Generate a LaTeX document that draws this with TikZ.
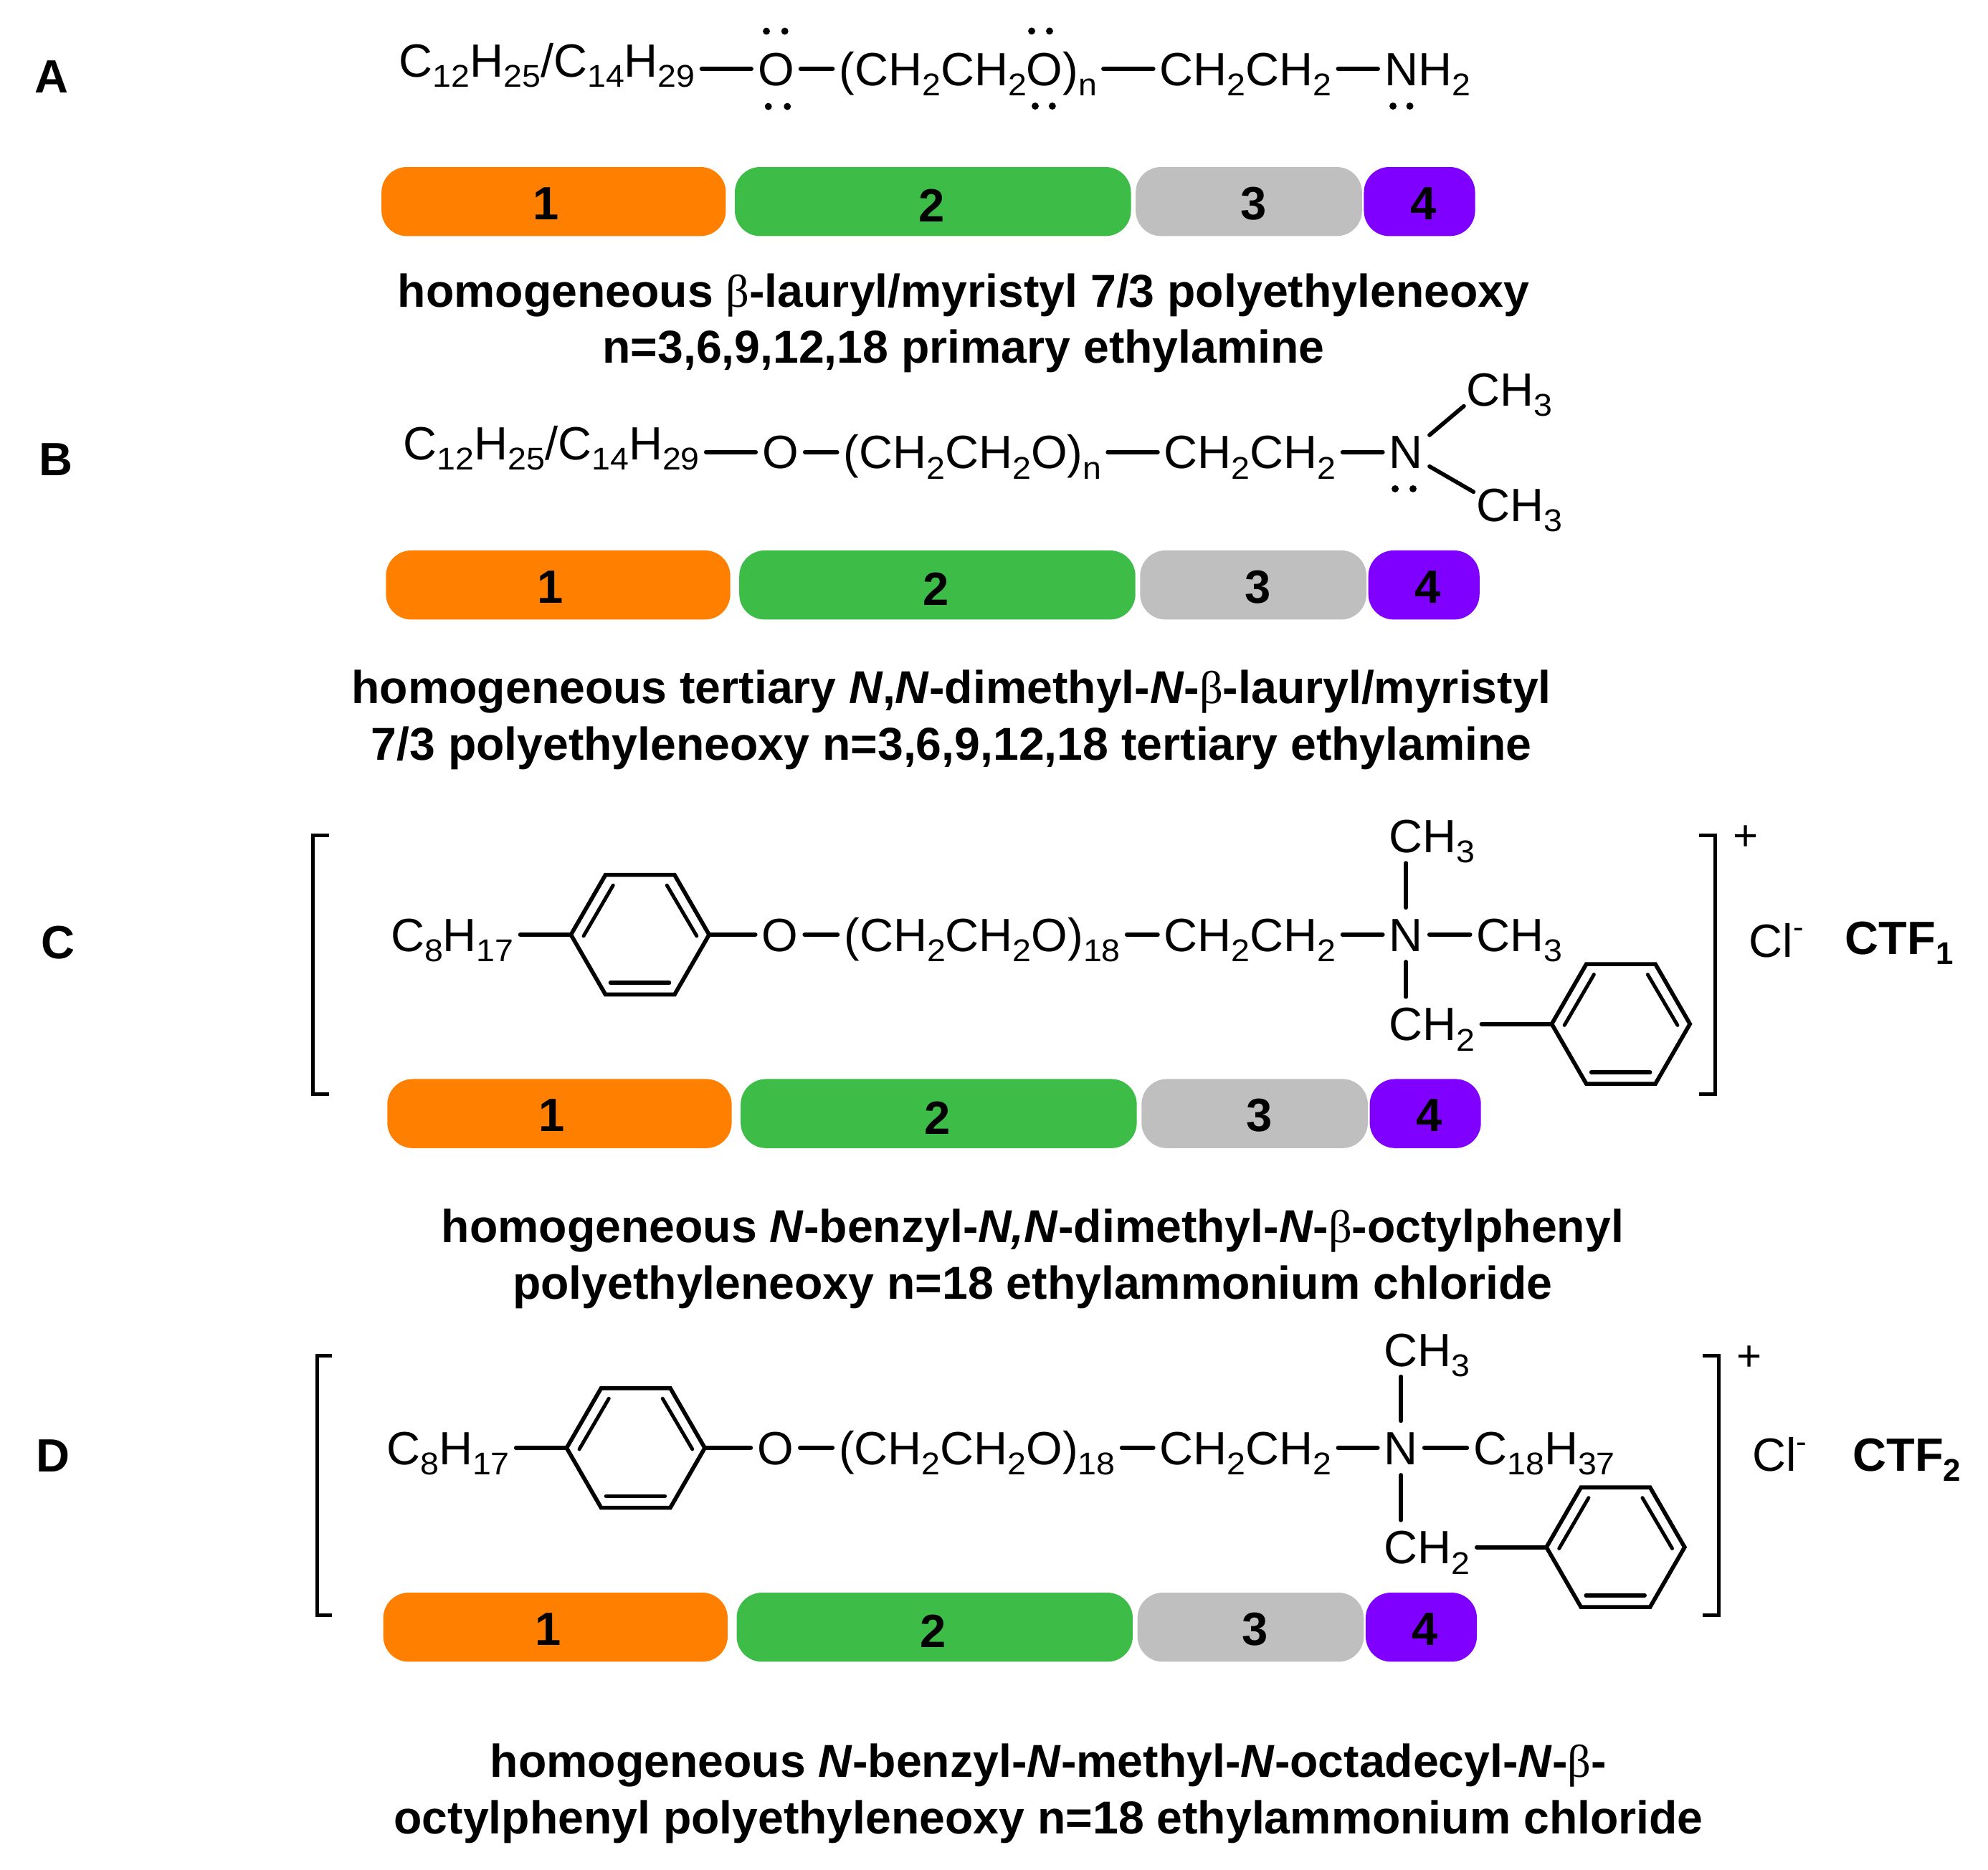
\documentclass[tikz,border=0pt]{standalone}
\usepackage{fontspec}
\setmainfont{Liberation Sans}
\newfontfamily\betafont{Liberation Serif}
\newfontfamily\subsfont[FakeStretch=1.06]{Liberation Sans}
\usetikzlibrary{shapes.geometric}
\definecolor{pillorange}{HTML}{FF8000}
\definecolor{pillgreen}{HTML}{3DBD47}
\definecolor{pillgrey}{HTML}{BFBFBF}
\definecolor{pillviolet}{HTML}{8000FF}
\newcommand{\sbs}[1]{\raisebox{-8pt}{\subsfont\fontsize{24.8}{24.8}\selectfont #1}}
\newcommand{\bsbs}[1]{\raisebox{-8pt}{\fontsize{24.8}{24.8}\selectfont\bfseries #1}}
\newcommand{\betaglyph}{{\betafont\mdseries β}}
\tikzset{
  chem/.style={font=\fontsize{36.8}{40}\selectfont, inner xsep=5pt, inner ysep=0pt, text height=26.3pt, text depth=0pt},
  rowlabel/.style={chem, font=\fontsize{36.8}{40}\selectfont\bfseries},
  caption/.style={font=\fontsize{36.4}{44.5}\selectfont\bfseries, align=center, inner sep=0pt},
  bond/.style={line width=3.5pt, line cap=round},
  vbond/.style={bond, line width=3.2pt, shorten >=8pt, shorten <=8pt},
  bracket/.style={line width=2.9pt},
  pairdot/.style={circle, fill=black, inner sep=0pt, minimum size=5.6pt},
  benzene/.style={regular polygon, regular polygon sides=6, draw, line width=3.2pt, minimum size=109pt, inner sep=0pt, outer sep=0pt,
    path picture={
      \draw[line width=2.8pt, line cap=round] ([shift={(-21.2,-39)}]path picture bounding box.center) -- ([shift={(-44.5,1)}]path picture bounding box.center);
      \draw[line width=2.8pt, line cap=round] ([shift={(21.2,-39)}]path picture bounding box.center) -- ([shift={(44.7,1)}]path picture bounding box.center);
      \draw[line width=3.2pt, line cap=round] ([shift={(-23.3,38)}]path picture bounding box.center) -- ([shift={(23,38)}]path picture bounding box.center);
    }},
  pill/.style={rounded corners=20pt, minimum height=54.5pt, inner xsep=0pt, inner ysep=0pt, text height=26.3pt, text depth=0pt, font=\fontsize{36.8}{40}\selectfont\bfseries},
  pillone/.style={pill, fill=pillorange, minimum width=271.6pt},
  pilltwo/.style={pill, fill=pillgreen, minimum width=312.4pt},
  pillthree/.style={pill, fill=pillgrey, minimum width=178.5pt},
  pillfour/.style={pill, fill=pillviolet, minimum width=87.7pt}
}
\begin{document}
\begin{tikzpicture}[x=1pt, y=-1pt]
  \useasboundingbox (0,0) rectangle (1568,1474.7);

  \node[rowlabel] (la) at (40.5,59.8) {A};
  \node[chem] (ac) at (431.5,47.4) {C\sbs{12}H\sbs{25}/C\sbs{14}H\sbs{29}};
  \node[chem] (ao) at (612,54.4) {O};
  \node[chem] (apeg) at (763.5,54.4) {(CH\sbs{2}CH\sbs{2}O)\sbs{n}};
  \node[chem] (ach) at (982.5,54.4) {CH\sbs{2}CH\sbs{2}};
  \node[chem] (an) at (1125.8,54.4) {NH\sbs{2}};
  \draw[bond] (ac.east |- ao.west) -- (ao.west);
  \draw[bond] (ao) -- (apeg);
  \draw[bond] (apeg) -- (ach);
  \draw[bond] (ach) -- (an);
  \node[pairdot] (aot1) at (604.5,24.6) {};
  \node[pairdot] (aot2) at (619,24.6) {};
  \node[pairdot] (aob1) at (606,84) {};
  \node[pairdot] (aob2) at (621,84) {};
  \node[pairdot] (apt1) at (813.7,24.5) {};
  \node[pairdot] (apt2) at (827.8,24.5) {};
  \node[pairdot] (apb1) at (816.5,83.7) {};
  \node[pairdot] (apb2) at (830,83.7) {};
  \node[pairdot] (anb1) at (1098.7,83.7) {};
  \node[pairdot] (anb2) at (1112,83.7) {};
  \node[pillone] (a1) at (436.7,159) {\hspace*{-12pt}\raisebox{-1pt}{1}};
  \node[pilltwo] (a2) at (735.8,159) {\hspace*{-2pt}\raisebox{-3pt}{2}};
  \node[pillthree] (a3) at (985,159) {\hspace*{7pt}\raisebox{-1pt}{3}};
  \node[pillfour] (a4) at (1119.6,159) {\hspace*{6pt}\raisebox{-1pt}{4}};
  \node[caption] (ta) at (760,255) {homogeneous \betaglyph-lauryl/myristyl 7/3 polyethyleneoxy\\n=3,6,9,12,18 primary ethylamine};

  \node[rowlabel] (lb) at (44,361.8) {B};
  \node[chem] (bc) at (435,349.4) {C\sbs{12}H\sbs{25}/C\sbs{14}H\sbs{29}};
  \node[chem] (bo) at (615.5,356.6) {O};
  \node[chem] (bpeg) at (767,356.6) {(CH\sbs{2}CH\sbs{2}O)\sbs{n}};
  \node[chem] (bch) at (986,356.6) {CH\sbs{2}CH\sbs{2}};
  \node[chem] (bn) at (1109,356.6) {N};
  \node[chem] (bm1) at (1190.7,307) {CH\sbs{3}};
  \node[chem] (bm2) at (1198.3,398.4) {CH\sbs{3}};
  \draw[bond] (bc.east |- bo.west) -- (bo.west);
  \draw[bond] (bo) -- (bpeg);
  \draw[bond] (bpeg) -- (bch);
  \draw[bond] (bch) -- (bn);
  \draw[vbond, shorten >=0pt, shorten <=0pt] (bn.north east) -- ([shift={(3,0)}]bm1.south west);
  \draw[vbond, shorten >=0pt, shorten <=0pt] ([shift={(0,-2)}]bn.south east) -- ([shift={(3,3)}]bm2.north west);
  \node[pairdot] (bnb1) at (1100.4,385.6) {};
  \node[pairdot] (bnb2) at (1114.5,385.6) {};
  \node[pillone] (b1) at (440.2,461.5) {\hspace*{-12pt}\raisebox{-1pt}{1}};
  \node[pilltwo] (b2) at (739.3,461.5) {\hspace*{-2pt}\raisebox{-3pt}{2}};
  \node[pillthree] (b3) at (988.5,461.5) {\hspace*{7pt}\raisebox{-1pt}{3}};
  \node[pillfour] (b4) at (1123.1,461.5) {\hspace*{6pt}\raisebox{-1pt}{4}};
  \node[caption] (tb) at (750.5,568) {homogeneous tertiary \textit{N},\textit{N}-dimethyl-\textit{N}-\betaglyph-lauryl/myristyl\\7/3 polyethyleneoxy n=3,6,9,12,18 tertiary ethylamine};

  \node[rowlabel] (lc) at (46,743) {C};
  \draw[bracket] (259.6,658.8) -- (246.6,658.8) -- (246.6,863.3) -- (259.6,863.3);
  \node[chem] (cc) at (356.7,737.4) {C\sbs{8}H\sbs{17}};
  \node[benzene] (cr1) at (504.8,737.4) {};
  \node[chem] (co) at (615.2,737.4) {O};
  \node[chem] (cpeg) at (774.7,737.4) {(CH\sbs{2}CH\sbs{2}O)\sbs{18}};
  \node[chem] (cch) at (986,737.4) {CH\sbs{2}CH\sbs{2}};
  \node[chem] (cn) at (1109,737.4) {N};
  \node[chem] (cm1) at (1129.5,659.5) {CH\sbs{3}};
  \node[chem] (cm2) at (1198.5,737.4) {CH\sbs{3}};
  \node[chem] (cb) at (1129.5,807.8) {CH\sbs{2}};
  \node[benzene] (cr2) at (1278.4,807.8) {};
  \draw[bond] (cc) -- (cr1.180);
  \draw[bond] (cr1.0) -- (co);
  \draw[bond] (co) -- (cpeg);
  \draw[bond] (cpeg) -- (cch);
  \draw[bond] (cch) -- (cn);
  \draw[bond] (cn) -- (cm2);
  \draw[vbond] (cn.north) -- (cn.north |- cm1.south);
  \draw[vbond] (cn.south) -- (cn.south |- cb.north);
  \draw[bond] (cb) -- (cr2.180);
  \draw[bracket] (1340,658.8) -- (1353,658.8) -- (1353,863.3) -- (1340,863.3);
  \node[chem, font=\fontsize{34}{34}\selectfont] (cplus) at (1377,657.6) {+};
  \node[chem] (ccl) at (1401,742) {Cl\raisebox{15pt}{\fontsize{24.8}{24.8}\selectfont -}};
  \node[chem, font=\fontsize{36.8}{40}\selectfont\bfseries] (cname) at (1498,739.7) {CTF\bsbs{1}};
  \node[pillone] (c1) at (441.3,878.5) {\hspace*{-12pt}\raisebox{-1pt}{1}};
  \node[pilltwo] (c2) at (740.4,878.5) {\hspace*{-2pt}\raisebox{-3pt}{2}};
  \node[pillthree] (c3) at (989.6,878.5) {\hspace*{7pt}\raisebox{-1pt}{3}};
  \node[pillfour] (c4) at (1124.2,878.5) {\hspace*{6pt}\raisebox{-1pt}{4}};
  \node[caption] (tc) at (814.5,993) {homogeneous \textit{N}-benzyl-\textit{N,N}-dimethyl-\textit{N}-\betaglyph-octylphenyl\\polyethyleneoxy n=18 ethylammonium chloride};

  \node[rowlabel] (ld) at (42,1148) {D};
  \draw[bracket] (262,1069.7) -- (250,1069.7) -- (250,1274.2) -- (262,1274.2);
  \node[chem] (dc) at (353.4,1142.3) {C\sbs{8}H\sbs{17}};
  \node[benzene] (dr1) at (501.4,1142.3) {};
  \node[chem] (do) at (611.6,1142.3) {O};
  \node[chem] (dpeg) at (770.7,1142.3) {(CH\sbs{2}CH\sbs{2}O)\sbs{18}};
  \node[chem] (dch) at (982.5,1142.3) {CH\sbs{2}CH\sbs{2}};
  \node[chem] (dn) at (1105,1142.3) {N};
  \node[chem] (dm1) at (1125.7,1064.6) {CH\sbs{3}};
  \node[chem] (dm2) at (1218,1142.3) {C\sbs{18}H\sbs{37}};
  \node[chem] (db) at (1125.7,1220.6) {CH\sbs{2}};
  \node[benzene] (dr2) at (1274.2,1220.6) {};
  \draw[bond] (dc) -- (dr1.180);
  \draw[bond] (dr1.0) -- (do);
  \draw[bond] (do) -- (dpeg);
  \draw[bond] (dpeg) -- (dch);
  \draw[bond] (dch) -- (dn);
  \draw[bond] (dn) -- (dm2);
  \draw[vbond] (dn.north) -- (dn.north |- dm1.south);
  \draw[vbond] (dn.south) -- (dn.south |- db.north);
  \draw[bond] (db) -- (dr2.180);
  \draw[bracket] (1342.8,1069.7) -- (1355.5,1069.7) -- (1355.5,1274.2) -- (1342.8,1274.2);
  \node[chem, font=\fontsize{34}{34}\selectfont] (dplus) at (1379.6,1068.4) {+};
  \node[chem] (dcl) at (1403.5,1147.6) {Cl\raisebox{15pt}{\fontsize{24.8}{24.8}\selectfont -}};
  \node[chem, font=\fontsize{36.8}{40}\selectfont\bfseries] (dname) at (1504,1147.6) {CTF\bsbs{2}};
  \node[pillone] (d1) at (438.1,1283.7) {\hspace*{-12pt}\raisebox{-1pt}{1}};
  \node[pilltwo] (d2) at (737.2,1283.7) {\hspace*{-2pt}\raisebox{-3pt}{2}};
  \node[pillthree] (d3) at (986.4,1283.7) {\hspace*{7pt}\raisebox{-1pt}{3}};
  \node[pillfour] (d4) at (1121,1283.7) {\hspace*{6pt}\raisebox{-1pt}{4}};
  \node[caption] (td) at (827,1415) {homogeneous \textit{N}-benzyl-\textit{N}-methyl-\textit{N}-octadecyl-\textit{N}-\betaglyph-\\octylphenyl polyethyleneoxy n=18 ethylammonium chloride};
\end{tikzpicture}
\end{document}
